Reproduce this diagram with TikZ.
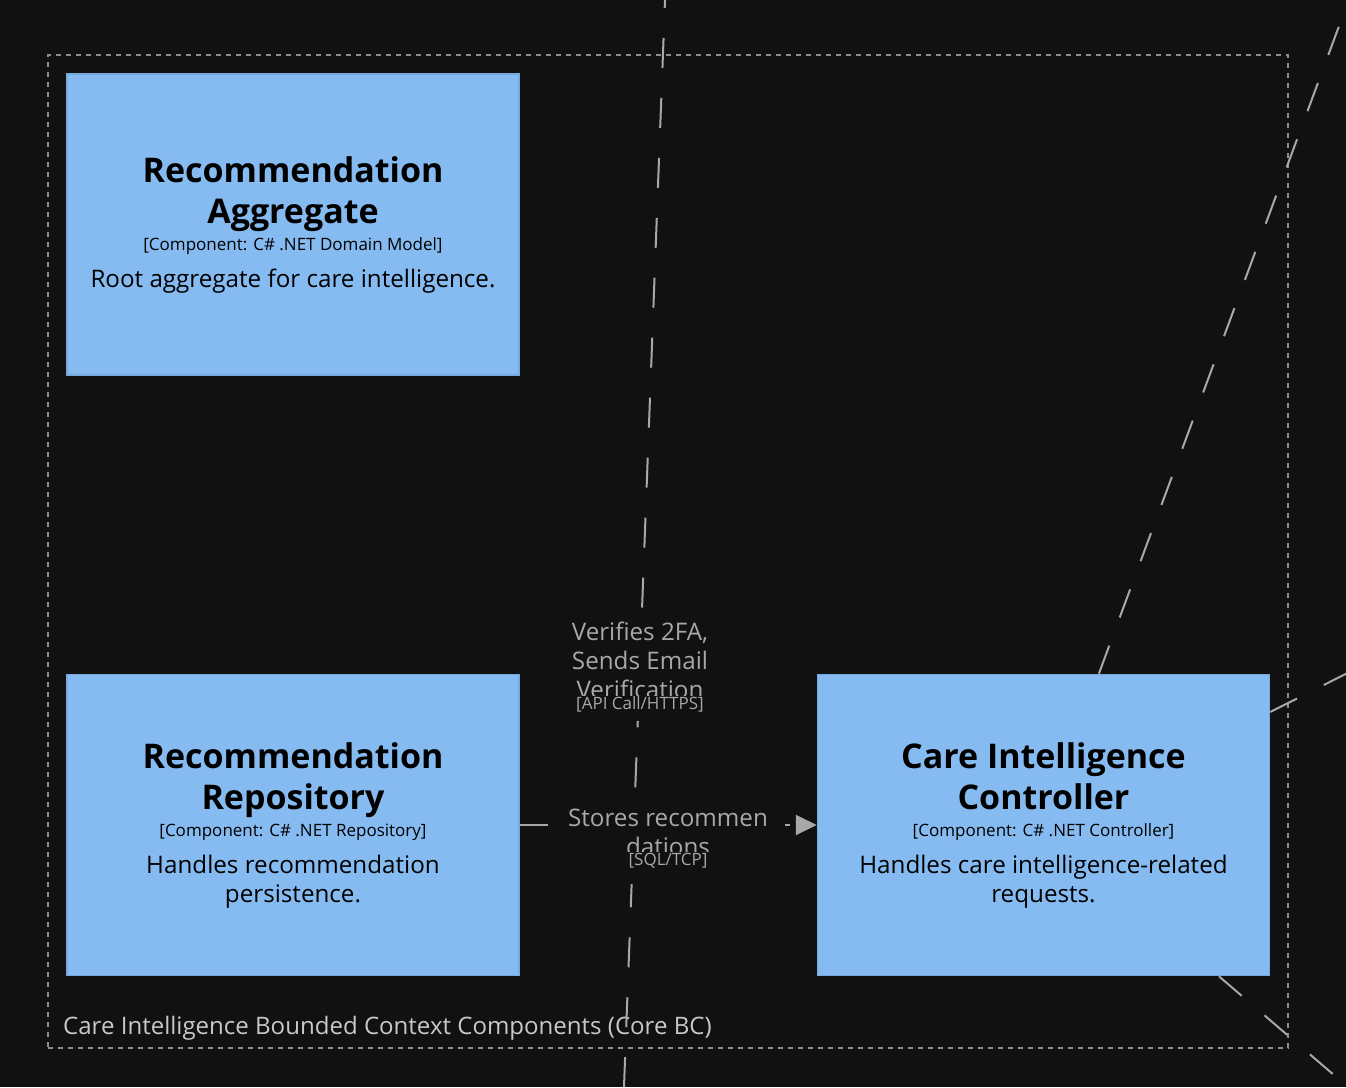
\documentclass[tikz,border=0pt]{standalone}
\usepackage{fontspec}
\setmainfont{Open Sans}
\usetikzlibrary{arrows.meta}

\definecolor{bgdark}{HTML}{111111}
\definecolor{compfill}{HTML}{85BBF0}
\definecolor{compline}{HTML}{78A9DC}
\definecolor{relgray}{HTML}{A8A8A8}
\definecolor{bcgray}{HTML}{8C8C8C}
\definecolor{bctextgray}{HTML}{C8C8C8}

\newcommand{\titlef}{\fontsize{34}{41}\selectfont\bfseries}
\newcommand{\typef}{\fontsize{17}{27}\selectfont}
\newcommand{\descf}{\fontsize{24.2}{29}\selectfont}
\newcommand{\techf}{\fontsize{17}{19}\selectfont}
\newcommand{\comptext}[3]{{\titlef #1\par}{\typef #2\par}\vskip 8pt{\descf #3\par}\vskip -6pt}

\begin{document}
\begin{tikzpicture}[x=1pt,y=-1pt]
    \tikzstyle{component}=[rectangle,draw=compline,fill=compfill,line width=1.5pt,minimum width=452pt,minimum height=301pt,text width=440pt,align=flush center,inner sep=0pt]
    \tikzstyle{boundary}=[rectangle,draw=bcgray,line width=2pt,dash pattern=on 5pt off 5pt,minimum width=1240pt,minimum height=993pt,inner sep=0pt]
    \tikzstyle{rel}=[draw=relgray,line width=2pt,dash pattern=on 30pt off 30pt]
    \tikzstyle{lblbox}=[rectangle,fill=bgdark,inner sep=0pt]
    \tikzstyle{edgetext}=[text=relgray,align=center,inner sep=0pt,font=\descf]
    \tikzstyle{techtext}=[text=relgray,align=center,inner sep=0pt,font=\techf]

    \fill[bgdark] (0,0) rectangle (1346,1087);
    \clip (0,0) rectangle (1346,1087);

    \node(bc)[boundary] at (668,551.5){};
    \node(bclab)[anchor=base west,inner sep=0pt,text=bctextgray,font=\fontsize{24.05}{29}\selectfont] at (63,1034){Care Intelligence Bounded Context Components (Core BC)};

    \node(agg)[component] at (293,224.5){\comptext{Recommendation\\Aggregate}{[Component: C\# .NET Domain Model]}{Root aggregate for care intelligence.}};
    \node(repo)[component] at (293,825){\comptext{Recommendation\\Repository}{[Component: C\# .NET Repository]}{Handles recommendation\\persistence.}};
    \node(ctrl)[component] at (1043.5,825){\comptext{Care Intelligence\\Controller}{[Component: C\# .NET Controller]}{Handles care intelligence-related\\requests.}};

    \coordinate(vtop) at (668.1,-82);
    \coordinate(vbot) at (621.6,1150);
    \coordinate(farA) at (1376.5,-75);
    \coordinate(farB) at (1443.5,624.6);
    \coordinate(farC) at (1443.5,1169);

    \draw[rel] (vtop) -- (vbot);
    \draw[rel,-{Triangle[length=21pt,width=20pt]}] (repo) -- (ctrl);
    \draw[rel] (ctrl) -- (farA);
    \draw[rel] (ctrl) -- (farB);
    \draw[rel] (ctrl) -- (farC);

    \node(vlab)[lblbox,minimum width=140pt,minimum height=113pt] at (640,664.5){};
    \begin{scope}
        \clip (560,600) rectangle (720,695);
        \node(vtext)[edgetext] at (640,660){Verifies 2FA,\\Sends Email\\Verification};
    \end{scope}
    \node(vtech)[techtext] at (640,704){[API Call/HTTPS]};

    \node(slab)[lblbox,minimum width=237pt,minimum height=94pt] at (666.5,837){};
    \begin{scope}
        \clip (548,790) rectangle (785,851);
        \node(stext)[edgetext] at (668,832){Stores recommen\\dations};
    \end{scope}
    \node(stech)[techtext] at (668,861){[SQL/TCP]};
\end{tikzpicture}
\end{document}
